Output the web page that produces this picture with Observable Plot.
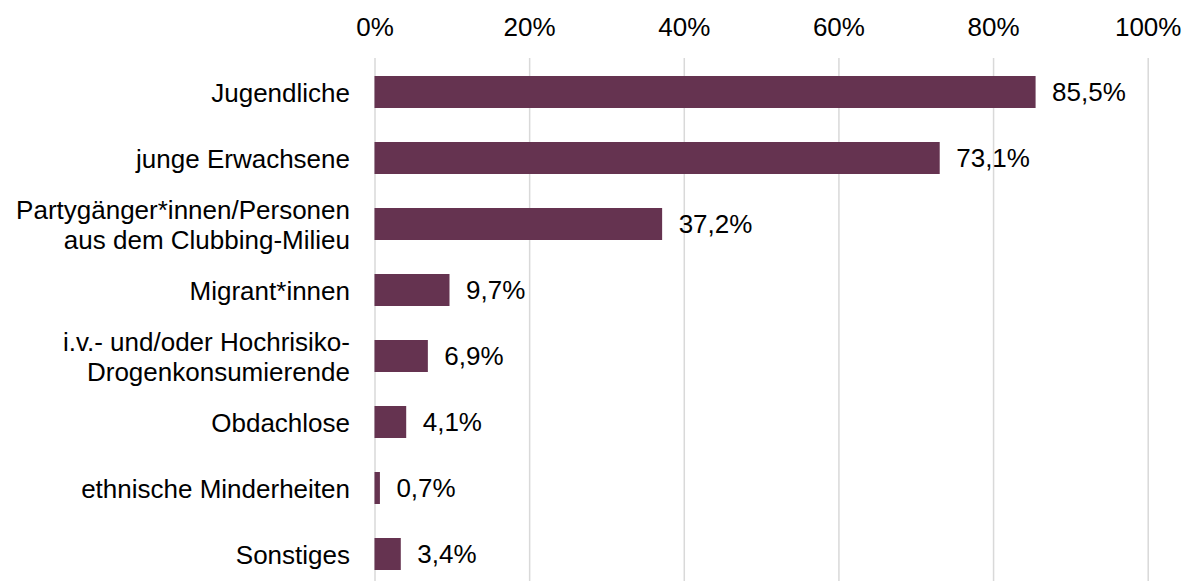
<!DOCTYPE html>
<html>
<head>
<meta charset="utf-8">
<script src="https://cdn.jsdelivr.net/npm/d3@7"></script>
<script src="https://cdn.jsdelivr.net/npm/@observablehq/plot@0.6"></script>
<style>
  html, body { margin: 0; padding: 0; background: #fff; }
</style>
</head>
<body>
<div id="chart"></div>
<script>
const categories = [
  "Jugendliche",
  "junge Erwachsene",
  "Partygänger*innen/Personen\naus dem Clubbing-Milieu",
  "Migrant*innen",
  "i.v.- und/oder Hochrisiko-\nDrogenkonsumierende",
  "Obdachlose",
  "ethnische Minderheiten",
  "Sonstiges"
];
const values = [85.5, 73.1, 37.2, 9.7, 6.9, 4.1, 0.7, 3.4];
const xTicks = [0, 20, 40, 60, 80, 100];

const data = categories.map((c, i) => ({category: c, value: values[i]}));
const fmt = v => v.toFixed(1).replace(".", ",") + "%";

const chart = Plot.plot({
  width: 1185,
  height: 581,
  marginTop: 58,
  marginBottom: 0,
  marginLeft: 374.5,
  marginRight: 37.3,
  style: {fontFamily: "'Liberation Sans', Arial, sans-serif", fontSize: "26px", color: "#000", background: "#fff"},
  x: {domain: [0, 100], ticks: xTicks},
  y: {domain: categories, range: [65.7, 581], paddingInner: 0.51, paddingOuter: 0.14},
  marks: [
    Plot.gridX(xTicks, {stroke: "#d9d9d9", strokeOpacity: 1, strokeWidth: 1.5}),
    Plot.barX(data, {x: "value", y: "category", fill: "#653350"}),
    Plot.text(data, {x: "value", y: "category", text: d => fmt(d.value), textAnchor: "start", dx: 16, fill: "#000", fontSize: 26}),
    Plot.axisX(xTicks, {anchor: "top", tickSize: 0, tickPadding: 23, tickFormat: d => d + "%", fontSize: 26, label: null, fill: "#000"}),
    Plot.axisY({tickSize: 0, tickPadding: 25, fontSize: 26, label: null, lineHeight: 1.17, fill: "#000"})
  ]
});
document.getElementById("chart").appendChild(chart);
</script>
</body>
</html>
